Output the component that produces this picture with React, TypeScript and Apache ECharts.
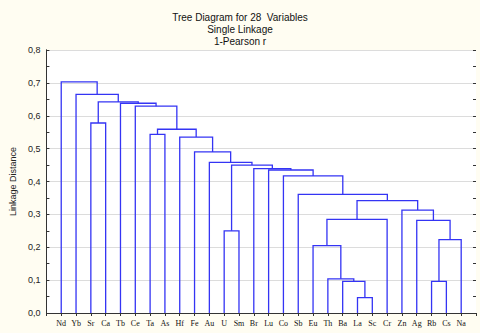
import React, { useEffect, useRef } from "react";
import * as echarts from "echarts";

const titleLines = ["Tree Diagram for 28  Variables", "Single Linkage", "1-Pearson r"];
const yAxisName = "Linkage Distance";

const leaves = ["Nd", "Yb", "Sr", "Ca", "Tb", "Ce", "Ta", "As", "Hf", "Fe", "Au", "U", "Sm", "Br", "Lu", "Co", "Sb", "Eu", "Th", "Ba", "La", "Sc", "Cr", "Zn", "Ag", "Rb", "Cs", "Na"];

// Merge steps (bottom-up). "#k" refers to the k-th merge.
const linkLeft = ["La", "Ba", "Rb", "Th", "Eu", "#2", "U", "Ag", "#4", "Zn", "#8", "Sb", "Co", "Lu", "Br", "#6", "Au", "Fe", "Hf", "Ta", "#19", "Sr", "Ce", "Tb", "#21", "Yb", "Nd"];
const linkRight = ["Sc", "#0", "Cs", "#1", "#3", "Na", "Sm", "#5", "Cr", "#7", "#9", "#10", "#11", "#12", "#13", "#14", "#15", "#16", "#17", "As", "#18", "Ca", "#20", "#22", "#23", "#24", "#25"];
const linkHeight = [0.047, 0.096, 0.096, 0.104, 0.205, 0.223, 0.25, 0.282, 0.285, 0.313, 0.342, 0.361, 0.417, 0.435, 0.439, 0.45, 0.458, 0.49, 0.535, 0.5435, 0.559, 0.578, 0.629, 0.638, 0.642, 0.665, 0.703];

const yTicks = { min: 0, max: 0.8, interval: 0.1, minorInterval: 0.05 };

function buildLinks() {
  const nodeX: number[] = [];
  const nodeY: number[] = [];
  const resolve = (ref: string): [number, number] => {
    if (ref.startsWith("#")) {
      const k = parseInt(ref.slice(1), 10);
      return [nodeX[k], nodeY[k]];
    }
    return [leaves.indexOf(ref) + 1, 0];
  };
  const data: number[][] = [];
  for (let i = 0; i < linkHeight.length; i++) {
    const [x1, y1] = resolve(linkLeft[i]);
    const [x2, y2] = resolve(linkRight[i]);
    const h = linkHeight[i];
    nodeX[i] = (x1 + x2) / 2;
    nodeY[i] = h;
    data.push([x1, x2, y1, y2, h]);
  }
  return data;
}

export default function App() {
  const ref = useRef<HTMLDivElement>(null);
  useEffect(() => {
    if (!ref.current) return;
    const chart = echarts.init(ref.current, null, { renderer: "svg" });
    const data = buildLinks();
    const lineColor = "#333";
    const tickAxis = (position: string) => ({
      type: "value",
      position,
      min: yTicks.min,
      max: yTicks.max,
      interval: yTicks.minorInterval,
      axisLine: { show: false },
      axisTick: { show: true, inside: true, length: 3, lineStyle: { color: lineColor } },
      splitLine: { show: false },
      axisLabel: { show: false },
    });
    chart.setOption({
      animation: false,
      backgroundColor: "#FFFDF2",
      title: {
        text: titleLines.join("\n"),
        left: "center",
        top: 6,
        textStyle: {
          fontSize: 10,
          fontWeight: "normal",
          lineHeight: 12,
          fontFamily: "Liberation Sans",
          color: "#111",
        },
      },
      grid: {
        left: 42,
        right: 4,
        top: 50,
        bottom: 20,
        show: true,
        backgroundColor: "#ffffff",
        borderWidth: 0,
      },
      xAxis: [
        {
          type: "value",
          position: "bottom",
          min: 0,
          max: leaves.length + 1,
          interval: 1,
          axisLine: { show: true, lineStyle: { color: lineColor } },
          axisTick: { show: false },
          splitLine: { show: false },
          axisLabel: {
            fontSize: 8,
            fontFamily: "Liberation Serif",
            color: "#111",
            margin: 6,
            formatter: (v: number) => leaves[Math.round(v) - 1] || "",
            showMinLabel: true,
            showMaxLabel: true,
          },
        },
        {
          type: "value",
          position: "top",
          min: 0,
          max: leaves.length + 1,
          interval: 1,
          axisLine: { show: true, lineStyle: { color: lineColor } },
          axisTick: { show: true, inside: true, length: 3, lineStyle: { color: lineColor } },
          splitLine: { show: false },
          axisLabel: { show: false },
        },
      ],
      yAxis: [
        {
          type: "value",
          position: "left",
          min: yTicks.min,
          max: yTicks.max,
          interval: yTicks.interval,
          name: yAxisName,
          nameLocation: "middle",
          nameGap: 27,
          nameTextStyle: { fontSize: 9, fontFamily: "Liberation Sans", color: "#222" },
          axisLine: { show: true, lineStyle: { color: lineColor } },
          axisTick: { show: false },
          splitLine: { show: true, lineStyle: { color: "#dcdcdc", width: 1 } },
          axisLabel: {
            fontSize: 9,
            fontFamily: "Liberation Sans",
            color: "#222",
            margin: 6,
            formatter: (v: number) => v.toFixed(1).replace(".", ","),
          },
        },
        {
          type: "value",
          position: "right",
          min: yTicks.min,
          max: yTicks.max,
          interval: yTicks.interval,
          axisLine: { show: true, lineStyle: { color: lineColor } },
          axisTick: { show: false },
          splitLine: { show: false },
          axisLabel: { show: false },
        },
        tickAxis("left"),
        tickAxis("right"),
      ],
      series: [
        {
          type: "custom",
          xAxisIndex: 0,
          yAxisIndex: 0,
          data,
          encode: { x: [0, 1], y: [2, 3, 4] },
          renderItem: (params: any, api: any) => {
            const x1 = api.value(0);
            const x2 = api.value(1);
            const y1 = api.value(2);
            const y2 = api.value(3);
            const h = api.value(4);
            const pts = [
              api.coord([x1, y1]),
              api.coord([x1, h]),
              api.coord([x2, h]),
              api.coord([x2, y2]),
            ];
            return {
              type: "polyline",
              shape: { points: pts },
              style: { stroke: "#3434f4", lineWidth: 1.3, fill: "none" },
            };
          },
        },
      ],
    });
    return () => chart.dispose();
  }, []);
  return (
    <div
      ref={ref}
      style={{ position: "fixed", left: 0, top: 0, width: 480, height: 333 }}
    />
  );
}
